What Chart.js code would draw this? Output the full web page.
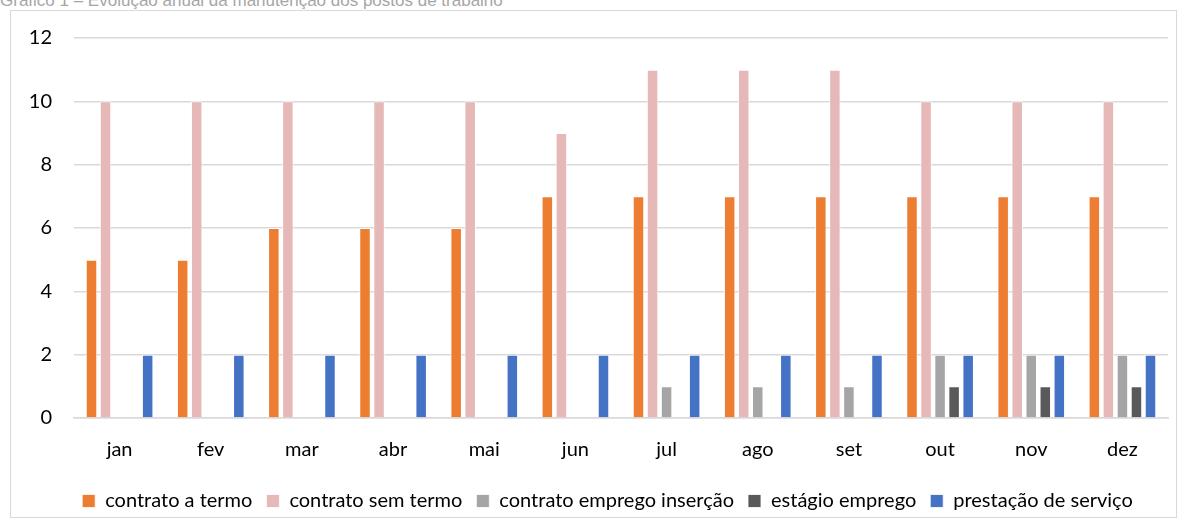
<!DOCTYPE html>
<html>
<head>
<meta charset="utf-8">
<script src="https://cdn.jsdelivr.net/npm/chart.js"></script>
<style>
  body { margin: 0; background: #fff; width: 1187px; height: 528px; overflow: hidden; position: relative; font-family: "Liberation Sans", Arial, sans-serif; }
  #titulo { position: absolute; left: 0; top: -9px; font-size: 17px; color: #a6a6a6; white-space: nowrap; }
  #caixa { position: absolute; left: 10px; top: 10px; width: 1165px; height: 506px; border: 1px solid #d9d9d9; background: #fff; }
  #mycanvas { position: absolute; left: 0; top: 0; }
</style>
</head>
<body>
<div id="titulo">Gráfico 1 – Evolução anual da manutenção dos postos de trabalho</div>
<div id="caixa"><canvas id="mycanvas" width="1165" height="510"></canvas></div>
<script>
var meses = ["jan", "fev", "mar", "abr", "mai", "jun", "jul", "ago", "set", "out", "nov", "dez"];
var contratoTermo = [5, 5, 6, 6, 6, 7, 7, 7, 7, 7, 7, 7];
var contratoSemTermo = [10, 10, 10, 10, 10, 9, 11, 11, 11, 10, 10, 10];
var empregoInsercao = [0, 0, 0, 0, 0, 0, 1, 1, 1, 2, 2, 2];
var estagioEmprego = [0, 0, 0, 0, 0, 0, 0, 0, 0, 1, 1, 1];
var prestacaoServico = [2, 2, 2, 2, 2, 2, 2, 2, 2, 2, 2, 2];
var yTicks = [0, 2, 4, 6, 8, 10, 12];

function serie(label, dados, cor) {
	return {
		label: label,
		data: dados,
		backgroundColor: cor,
		borderColor: 'rgba(255,255,255,0.8)',
		borderWidth: 1,
		borderSkipped: 'bottom',
		categoryPercentage: 0.77,
		barPercentage: 0.82
	};
}

// a legenda do Excel fica centrada na área do gráfico, não no canvas todo
var desviaLegenda = {
	id: 'desviaLegenda',
	afterLayout: function(chart) {
		chart.legend.left += 18;
		chart.legend.right += 18;
	}
};

var fonte = "Lato";
var ctx = document.getElementById("mycanvas");
var grafico = new Chart(ctx, {
	type: 'bar',
	data: {
		labels: meses,
		datasets: [
			serie('contrato a termo', contratoTermo, '#ED7D31'),
			serie('contrato sem termo', contratoSemTermo, '#E6B8B7'),
			serie('contrato emprego inserção', empregoInsercao, '#A5A5A5'),
			serie('estágio emprego', estagioEmprego, '#595959'),
			serie('prestação de serviço', prestacaoServico, '#4472C4')
		]
	},
	plugins: [desviaLegenda],
	options: {
		responsive: false,
		animation: false,
		layout: { padding: { left: 0, right: 8, top: 27, bottom: 0 } },
		plugins: {
			tooltip: { enabled: false },
			legend: {
				position: 'bottom',
				labels: {
					boxWidth: 13,
					boxHeight: 13,
					padding: 14,
					color: '#000',
					font: { family: fonte, size: 20 }
				}
			}
		},
		scales: {
			x: {
				grid: { display: false, drawTicks: false },
				border: { color: '#d9d9d9', width: 1.5 },
				ticks: { color: '#000', padding: 20, font: { family: fonte, size: 20 } },
				afterFit: function(axis) { axis.height = 59; }
			},
			y: {
				min: 0,
				max: 12,
				afterBuildTicks: function(axis) {
					axis.ticks = yTicks.map(function(v) { return { value: v }; });
				},
				grid: { color: '#d9d9d9', lineWidth: 1.5, drawTicks: false },
				border: { display: false },
				ticks: { color: '#000', padding: 22, font: { family: fonte, size: 20 } },
				afterFit: function(axis) { axis.width = 63; axis.paddingTop = 0; }
			}
		}
	}
});
</script>
</body>
</html>
